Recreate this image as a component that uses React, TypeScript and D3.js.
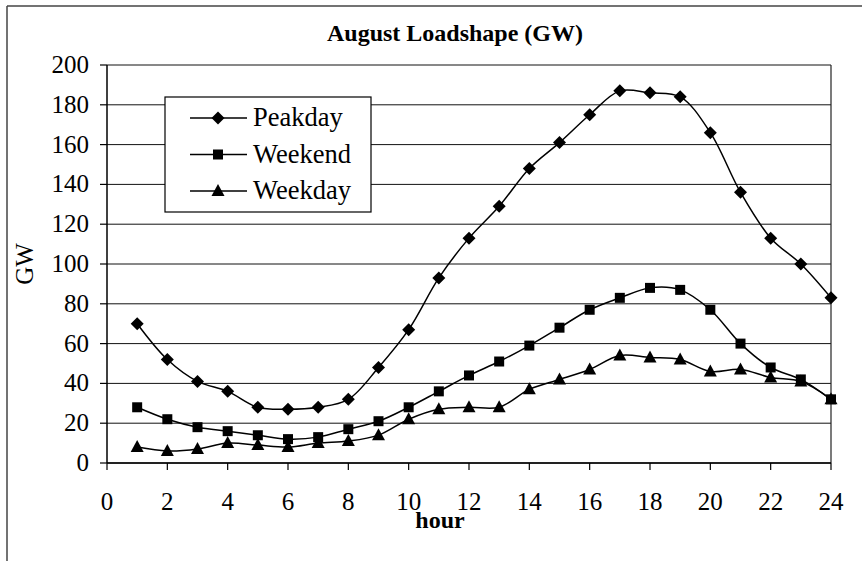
import React from 'react';
import * as d3 from 'd3';

const hours = d3.range(1, 25);
const peakday = [70, 52, 41, 36, 28, 27, 28, 32, 48, 67, 93, 113, 129, 148, 161, 175, 187, 186, 184, 166, 136, 113, 100, 83];
const weekend = [28, 22, 18, 16, 14, 12, 13, 17, 21, 28, 36, 44, 51, 59, 68, 77, 83, 88, 87, 77, 60, 48, 42, 32];
const weekday = [8, 6, 7, 10, 9, 8, 10, 11, 14, 22, 27, 28, 28, 37, 42, 47, 54, 53, 52, 46, 47, 43, 41, 32];
const seriesNames = ['Peakday', 'Weekend', 'Weekday'];
const xTicks = d3.range(0, 25, 2);
const yTicks = d3.range(0, 201, 20);

const W = 862;
const H = 561;
const plot = { left: 107, right: 831, top: 65, bottom: 463 };
const font = '"Liberation Serif", "Times New Roman", serif';

const x = d3.scaleLinear().domain([0, 24]).range([plot.left, plot.right]);
const y = d3.scaleLinear().domain([0, 200]).range([plot.bottom, plot.top]);

const line = d3
  .line<number>()
  .x((d, i) => x(hours[i]))
  .y(d => y(d))
  .curve(d3.curveCatmullRom.alpha(0.5));

const diamond = (cx: number, cy: number) => {
  const r = 6.5;
  return `M${cx},${cy - r}L${cx + r},${cy}L${cx},${cy + r}L${cx - r},${cy}Z`;
};
const square = (cx: number, cy: number) => {
  const r = 5;
  return `M${cx - r},${cy - r}h${2 * r}v${2 * r}h${-2 * r}Z`;
};
const triangle = (cx: number, cy: number) => {
  const w = 6.5;
  return `M${cx},${cy - 7}L${cx + w},${cy + 5}L${cx - w},${cy + 5}Z`;
};
const markers = [diamond, square, triangle];
const allSeries = [peakday, weekend, weekday];

export default function App() {
  return (
    <svg
      width={W}
      height={H}
      style={{ position: 'absolute', left: 0, top: 0, background: '#fff' }}
      fontFamily={font}
    >
      {/* outer frame */}
      <line x1={7} y1={6} x2={W} y2={6} stroke="#444" strokeWidth={1.5} />
      <line x1={7} y1={6} x2={7} y2={H} stroke="#444" strokeWidth={1.5} />

      <text x={455} y={41} textAnchor="middle" fontSize={24} fontWeight="bold">
        August Loadshape (GW)
      </text>

      {/* gridlines */}
      {yTicks.map(t => (
        <line key={'g' + t} x1={plot.left} x2={plot.right} y1={y(t)} y2={y(t)} stroke="#111" strokeWidth={1} />
      ))}
      <line x1={plot.right} x2={plot.right} y1={plot.top} y2={plot.bottom} stroke="#222" strokeWidth={1.2} />

      {/* axes */}
      <line x1={plot.left} x2={plot.left} y1={plot.top} y2={plot.bottom} stroke="#000" strokeWidth={1.5} />
      <line x1={plot.left} x2={plot.right} y1={plot.bottom} y2={plot.bottom} stroke="#000" strokeWidth={1.5} />
      {yTicks.map(t => (
        <g key={'y' + t}>
          <line x1={plot.left - 7} x2={plot.left} y1={y(t)} y2={y(t)} stroke="#000" strokeWidth={1.2} />
          <text x={89} y={y(t) + 8} textAnchor="end" fontSize={25}>
            {t}
          </text>
        </g>
      ))}
      {xTicks.map(t => (
        <g key={'x' + t}>
          <line x1={x(t)} x2={x(t)} y1={plot.bottom} y2={plot.bottom + 7} stroke="#000" strokeWidth={1.2} />
          <text x={x(t)} y={510} textAnchor="middle" fontSize={25}>
            {t}
          </text>
        </g>
      ))}
      <text x={440} y={528} textAnchor="middle" fontSize={24} fontWeight="bold">
        hour
      </text>
      <text
        transform="translate(33,264) rotate(-90)"
        textAnchor="middle"
        fontSize={25}
      >
        GW
      </text>

      {/* series */}
      {allSeries.map((s, si) => (
        <g key={'s' + si}>
          <path d={line(s) || ''} fill="none" stroke="#000" strokeWidth={1.5} />
          {s.map((v, i) => (
            <path key={i} d={markers[si](x(hours[i]), y(v))} fill="#000" />
          ))}
        </g>
      ))}

      {/* legend */}
      <rect x={165} y={97} width={206} height={115} fill="#fff" stroke="#000" strokeWidth={1.2} />
      {seriesNames.map((name, i) => {
        const cy = 118 + i * 36.5;
        return (
          <g key={name}>
            <line x1={190} x2={247} y1={cy} y2={cy} stroke="#000" strokeWidth={1.5} />
            <path d={markers[i](218, cy)} fill="#000" />
            <text x={253} y={cy + 8} fontSize={26.5}>
              {name}
            </text>
          </g>
        );
      })}
    </svg>
  );
}
